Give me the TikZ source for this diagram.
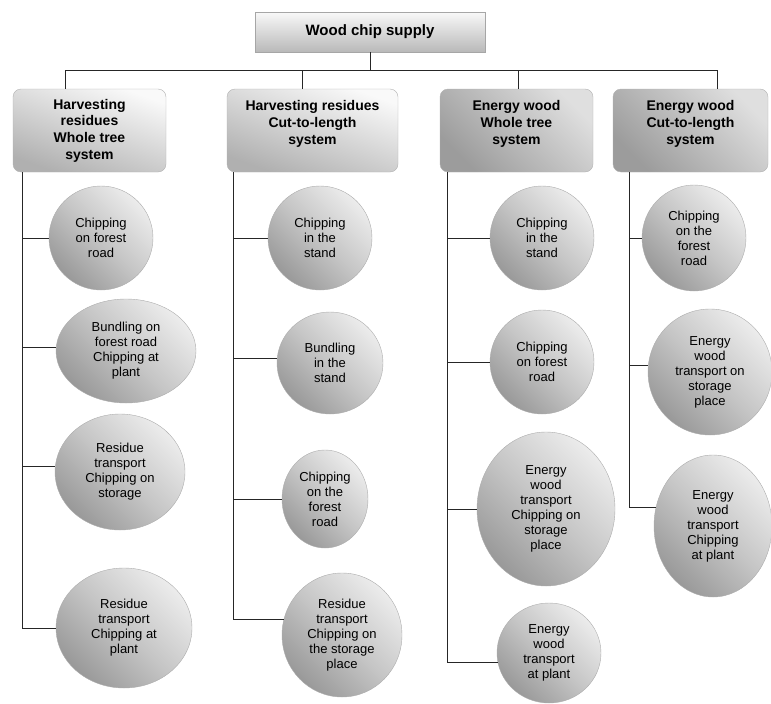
\documentclass[tikz,border=0pt]{standalone}
\usepackage{fontspec}
\setmainfont{Liberation Sans}
\usetikzlibrary{
    shapes.geometric,
    positioning,
    calc
}

\tikzset{
    supplybox/.style={draw=gray!70, minimum width=230pt, minimum height=40pt,
        top color=gray!5, bottom color=gray!55,
        font=\bfseries\fontsize{15}{18}\selectfont},
    systembox/.style={draw=gray!60, rounded corners=8pt, minimum height=83pt,
        align=center, font=\bfseries\fontsize{14}{16.7}\selectfont},
    threelines/.style={text depth=16pt},
    lightbox/.style={systembox, top color=gray!5, bottom color=gray!62, shading angle=-20},
    darkbox/.style={systembox, top color=gray!78, bottom color=gray!25, middle color=gray!52, shading angle=135},
    chain/.style={ellipse, draw=gray!65, inner sep=0pt, align=center,
        top color=gray!80, bottom color=gray!15, middle color=gray!45, shading angle=135,
        font=\fontsize{13}{15}\selectfont},
    disc/.style 2 args={minimum width=#1pt, minimum height=#2pt},
    link/.style={draw=black!85, line width=0.8pt}
}

\begin{document}
\begin{tikzpicture}[x=1pt, y=-1pt]
    \useasboundingbox (0,0) rectangle (771,704);

    % top of the tree
    \node[supplybox] (supply) at (370,32) {Wood chip supply};

    % the four supply systems
    \node[lightbox, minimum width=153pt] (hrw) at (89.5,130.5) {Harvesting\\residues\\Whole tree\\system};
    \node[lightbox, threelines, minimum width=171pt] (hrc) at (312.5,130.5) {Harvesting residues\\Cut-to-length\\system};
    \node[darkbox, threelines, minimum width=153pt] (eww) at (516.5,130.5) {Energy wood\\Whole tree\\system};
    \node[darkbox, threelines, minimum width=155pt] (ewc) at (690.5,130.5) {Energy wood\\Cut-to-length\\system};

    \coordinate (d1) at (65,70);
    \coordinate (d2) at (302,70);
    \coordinate (d3) at (518,70);
    \coordinate (d4) at (717,70);

    \coordinate (t1) at (22,0);
    \coordinate (t2) at (233,0);
    \coordinate (t3) at (447,0);
    \coordinate (t4) at (629,0);

    % harvesting residues, whole tree
    \node[chain, disc={104}{104}] (hrw1) at (101,238) {Chipping\\on forest\\road};
    \node[chain, disc={140}{104}] (hrw2) at (126,351) {Bundling on\\forest road\\Chipping at\\plant};
    \node[chain, disc={130}{116}] (hrw3) at (120,472) {Residue\\transport\\Chipping on\\storage};
    \node[chain, disc={136}{120}] (hrw4) at (124,628) {Residue\\transport\\Chipping at\\plant};

    % harvesting residues, cut-to-length
    \node[chain, disc={104}{104}] (hrc1) at (320,238) {Chipping\\in the\\stand};
    \node[chain, disc={106}{102}] (hrc2) at (330,363) {Bundling\\in the\\stand};
    \node[chain, disc={86}{98}] (hrc3) at (325,499) {Chipping\\on the\\forest\\road};
    \node[chain, disc={120}{124}] (hrc4) at (342,635) {Residue\\transport\\Chipping on\\the storage\\place};

    % energy wood, whole tree
    \node[chain, disc={104}{104}] (eww1) at (542,238) {Chipping\\in the\\stand};
    \node[chain, disc={104}{104}] (eww2) at (542,362) {Chipping\\on forest\\road};
    \node[chain, disc={138}{154}] (eww3) at (546,509) {Energy\\wood\\transport\\Chipping on\\storage\\place};
    \node[chain, disc={104}{100}] (eww4) at (549,653) {Energy\\wood\\transport\\at plant};

    % energy wood, cut-to-length
    \node[chain, disc={104}{106}] (ewc1) at (694,238) {Chipping\\on the\\forest\\road};
    \node[chain, disc={124}{126}] (ewc2) at (710,372) {Energy\\wood\\transport on\\storage\\place};
    \node[chain, disc={118}{142}] (ewc3) at (713,526) {Energy\\wood\\transport\\Chipping\\at plant};

    % connectors
    \draw[link] (supply.south) -- (supply.south |- d1);
    \draw[link] (d1) -- (d4);
    \draw[link] (d1) -- (d1 |- hrw.north);
    \draw[link] (d2) -- (d2 |- hrc.north);
    \draw[link] (d3) -- (d3 |- eww.north);
    \draw[link] (d4) -- (d4 |- ewc.north);

    \draw[link] (t1 |- hrw.south) |- (hrw4.west);
    \draw[link] (t1 |- hrw1.west) -- (hrw1.west);
    \draw[link] (t1 |- hrw2.177) -- (hrw2.177);
    \draw[link] (t1 |- hrw3.175) -- (hrw3.175);

    \draw[link] (t2 |- hrc.south) |- (hrc4.165);
    \draw[link] (t2 |- hrc1.west) -- (hrc1.west);
    \draw[link] (t2 |- hrc2.175) -- (hrc2.175);
    \draw[link] (t2 |- hrc3.west) -- (hrc3.west);

    \draw[link] (t3 |- eww.south) |- (eww4.190);
    \draw[link] (t3 |- eww1.west) -- (eww1.west);
    \draw[link] (t3 |- eww2.west) -- (eww2.west);
    \draw[link] (t3 |- eww3.west) -- (eww3.west);

    \draw[link] (t4 |- ewc.south) |- (ewc3.162);
    \draw[link] (t4 |- ewc1.west) -- (ewc1.west);
    \draw[link] (t4 |- ewc2.174) -- (ewc2.174);
\end{tikzpicture}
\end{document}
